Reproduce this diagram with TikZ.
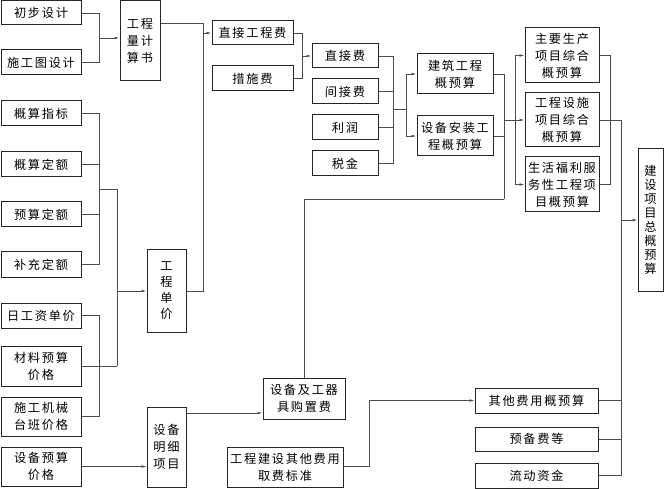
\documentclass[tikz,border=0pt]{standalone}
\usepackage{fontspec}
\newfontfamily\cjk[LetterSpace=14]{Noto Sans CJK SC}
\usetikzlibrary{arrows.meta}
\begin{document}
\begin{tikzpicture}[x=1pt,y=-1pt,
 bx/.style={draw=black!85, line width=1pt, inner sep=0pt, align=center, font=\cjk\fontsize{12.2}{17}\selectfont},
 ln/.style={draw=black!70, line width=0.7pt},
 arr/.style={ln, -{Latex[length=5pt,width=2.6pt]}}]
\useasboundingbox (0,0) rectangle (664,489);
% left column
\node[bx, minimum width=80pt, minimum height=24pt] (a1) at (41,13) {初步设计};
\node[bx, minimum width=80pt, minimum height=25pt] (a2) at (41,62.5) {施工图设计};
\node[bx, minimum width=80pt, minimum height=25pt] (b1) at (41,113.5) {概算指标};
\node[bx, minimum width=80pt, minimum height=25pt] (b2) at (41,164.5) {概算定额};
\node[bx, minimum width=80pt, minimum height=25pt] (b3) at (41,214.5) {预算定额};
\node[bx, minimum width=80pt, minimum height=25pt] (b4) at (41,264.5) {补充定额};
\node[bx, minimum width=80pt, minimum height=25pt] (c1) at (41,315.5) {日工资单价};
\node[bx, minimum width=80pt, minimum height=40pt] (c2) at (41,366) {材料预算\\价格};
\node[bx, minimum width=80pt, minimum height=39pt] (c3) at (41,416.5) {施工机械\\台班价格};
\node[bx, minimum width=80pt, minimum height=39pt] (d1) at (41,466.5) {设备预算\\价格};
% second column
\node[bx, minimum width=40pt, minimum height=80pt] (gcl) at (140,41) {工程\\量计\\算书};
\node[bx, minimum width=39pt, minimum height=82pt, font=\cjk\fontsize{12.2}{16}\selectfont] (gcdj) at (166.5,291) {工\\程\\单\\价};
\node[bx, minimum width=39pt, minimum height=80pt] (sbmx) at (166.5,447) {设备\\明细\\项目};
% middle
\node[bx, minimum width=81pt, minimum height=24pt] (zjgcf) at (252.5,33) {直接工程费};
\node[bx, minimum width=81pt, minimum height=25pt] (csf) at (252.5,78.5) {措施费};
\node[bx, minimum width=66pt, minimum height=24pt] (zjf) at (345,56) {直接费};
\node[bx, minimum width=66pt, minimum height=25pt] (jjf) at (345,91.5) {间接费};
\node[bx, minimum width=66pt, minimum height=25pt] (lr) at (345,127.5) {利润};
\node[bx, minimum width=66pt, minimum height=25pt] (sj) at (345,163.5) {税金};
\node[bx, minimum width=76pt, minimum height=40pt] (jz) at (455,74) {建筑工程\\概预算};
\node[bx, minimum width=76pt, minimum height=40pt] (sbaz) at (455,136) {设备安装工\\程概预算};
\node[bx, minimum width=74pt, minimum height=55pt] (zysc) at (562,55.5) {主要生产\\项目综合\\概预算};
\node[bx, minimum width=74pt, minimum height=54pt] (gcss) at (562,120) {工程设施\\项目综合\\概预算};
\node[bx, minimum width=74pt, minimum height=55pt] (shfl) at (562,184.5) {生活福利服\\务性工程项\\目概预算};
\node[bx, minimum width=25pt, minimum height=142pt, font=\cjk\fontsize{12.2}{14}\selectfont] (total) at (650.5,220) {建\\设\\项\\目\\总\\概\\预\\算};
% bottom
\node[bx, minimum width=82pt, minimum height=41pt] (sbgq) at (304,398.5) {设备及工器\\具购置费};
\node[bx, minimum width=116pt, minimum height=40pt] (qtbz) at (285,467) {工程建设其他费用\\取费标准};
\node[bx, minimum width=123pt, minimum height=25pt] (qtys) at (536.5,400.5) {其他费用概预算};
\node[bx, minimum width=123pt, minimum height=24pt] (ybf) at (536.5,439) {预备费等};
\node[bx, minimum width=123pt, minimum height=25pt] (ldzj) at (536.5,475.5) {流动资金};
% junction coordinates
\coordinate (j1) at (99,38);
\coordinate (k1) at (203,23);
\coordinate (k2) at (203,291);
\coordinate (k3) at (203,33);
\coordinate (j2) at (99,189);
\coordinate (j2b) at (117,189);
\coordinate (j3) at (99,366);
\coordinate (j3b) at (117,366);
\coordinate (j4) at (117,291);
\coordinate (m1) at (186,413);
\coordinate (p1) at (302,56);
\coordinate (q1) at (393,109);
\coordinate (q2) at (406,109);
\coordinate (n1) at (504,199);
\coordinate (n2) at (504,120);
\coordinate (n3) at (515,120);
\coordinate (r1) at (610,120);
\coordinate (s1) at (621,120);
\coordinate (s2) at (621,220);
\coordinate (t1) at (369,466);
% connectors
\draw[ln] (a1.east) -| (j1);
\draw[ln] (a2.east) -| (j1);
\draw[arr] (j1) -- (gcl.west |- j1);
\draw[ln] (gcl.east |- k1) -- (k1) -- (k2) -- (gcdj.east |- k2);
\draw[arr] (k3) -- (zjgcf.west);
\draw[ln] (b1.east) -| (j2);
\draw[ln] (b4.east) -| (j2);
\draw[ln] (b2.east) -- (b2.east -| j2);
\draw[ln] (b3.east) -- (b3.east -| j2);
\draw[ln] (j2) -- (j2b) -- (j3b);
\draw[ln] (c2.east) -- (j3b);
\draw[ln] (c1.east) -| (j3);
\draw[ln] (c3.east) -| (j3);
\draw[arr] (j4) -- (gcdj.west |- j4);
\draw[arr] (d1.east) -- (sbmx.west |- d1.east);
\draw[arr] (sbmx.east |- m1) -- (sbgq.west |- m1);
\draw[ln] (sbgq.north) |- (n1);
\draw[ln] (zjgcf.east) -| (p1);
\draw[ln] (csf.east) -| (p1);
\draw[arr] (p1) -- (zjf.west);
\draw[ln] (zjf.east) -| (q1);
\draw[ln] (sj.east) -| (q1);
\draw[ln] (jjf.east) -- (jjf.east -| q1);
\draw[ln] (lr.east) -- (lr.east -| q1);
\draw[ln] (q1) -- (q2);
\draw[arr] (q2) |- (jz.west);
\draw[arr] (q2) |- (sbaz.west);
\draw[ln] (jz.east) -| (n1);
\draw[ln] (sbaz.east) -- (sbaz.east -| n1);
\draw[arr] (n2) -- (gcss.west);
\draw[arr] (n3) |- (zysc.west);
\draw[arr] (n3) |- (shfl.west);
\draw[ln] (zysc.east) -| (r1);
\draw[ln] (shfl.east) -| (r1);
\draw[ln] (gcss.east) -- (s1) -- (s1 |- ldzj.east) -- (ldzj.east);
\draw[ln] (qtys.east) -- (qtys.east -| s1);
\draw[ln] (ybf.east) -- (ybf.east -| s1);
\draw[arr] (s2) -- (total.west |- s2);
\draw[arr] (qtbz.east |- t1) -- (t1) |- (qtys.west);
\end{tikzpicture}
\end{document}
